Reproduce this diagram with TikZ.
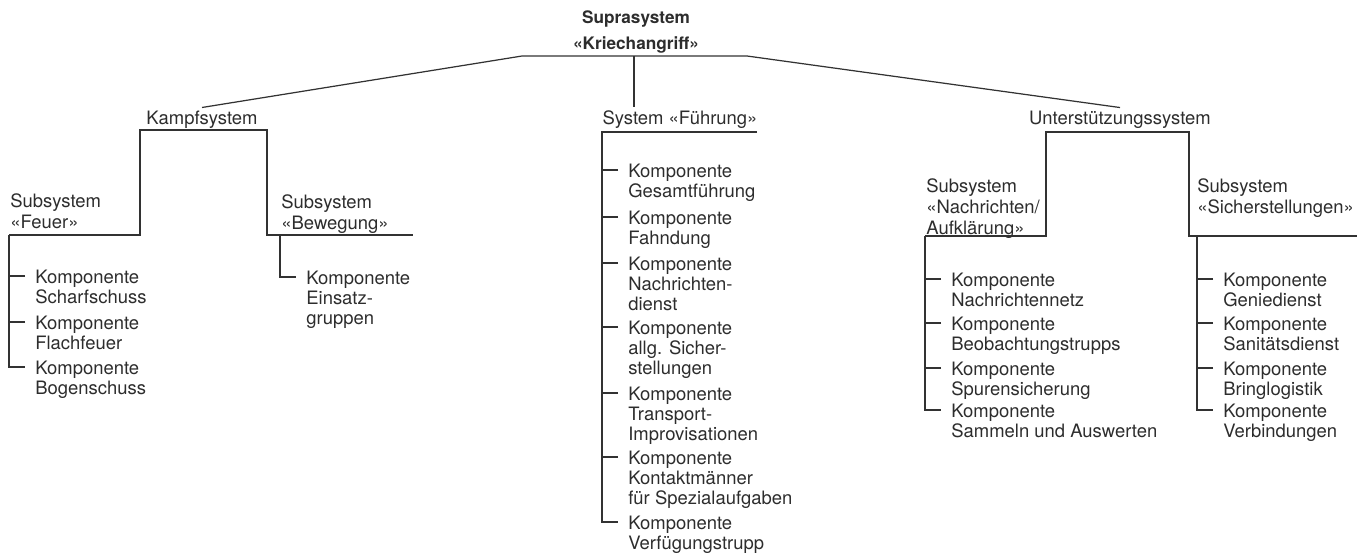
\documentclass[tikz,border=0pt]{standalone}
\usepackage{fontspec}
\setmainfont{TeX Gyre Heros}
\usetikzlibrary{
  positioning,
  calc
}
\definecolor{tintecol}{RGB}{45,45,45}
\definecolor{liniecol}{RGB}{50,50,50}
\tikzset{
  titel/.style={
    font=\fontsize{9.8}{14.8}\selectfont\bfseries,
    align=center,
    anchor=north,
    inner sep=1.5pt,
    text=tintecol
  },
  sysname/.style={
    font=\fontsize{10.5}{12}\selectfont,
    anchor=base,
    inner sep=1.8pt,
    text=tintecol
  },
  subsys/.style={
    font=\fontsize{10.5}{11.95}\selectfont,
    align=left,
    anchor=north west,
    inner sep=0pt,
    text=tintecol
  },
  komp/.style={
    font=\fontsize{10.5}{11.38}\selectfont,
    align=left,
    anchor=north west,
    inner sep=0pt,
    text=tintecol
  },
  linie/.style={
    line width=0.7pt,
    color=liniecol
  },
  zweig/.style={
    shift={(-10,6.6)}
  }
}

\begin{document}
\begin{tikzpicture}[x=0.02cm, y=-0.02cm]
  \useasboundingbox (0,0) rectangle (1366,555);

  % Suprasystem
  \node[titel] (supra) at (636,8) {Suprasystem\\«Kriechangriff»};
  \coordinate (supra-l) at (522,56);
  \coordinate (supra-m) at (634,56);
  \coordinate (supra-r) at (747,56);

  % Systems
  \node[sysname] (kampf) at (202,124.5) {Kampfsystem};
  \node[sysname] (fuehrung) at (680,124.5) {System «Führung»};
  \node[sysname] (unter) at (1120,124.5) {Unterstützungssystem};

  \coordinate (kampf-l) at (140,130);
  \coordinate (kampf-r) at (267,130);
  \coordinate (fue-a) at (602,132);
  \coordinate (fue-r) at (757,132);
  \coordinate (unter-l) at (1046,132);
  \coordinate (unter-r) at (1189,132);

  % Subsystems
  \node[subsys] (feuer) at (10,193.5) {Subsystem\\«Feuer»};
  \node[subsys] (beweg) at (281,194.5) {Subsystem\\«Bewegung»};
  \node[subsys] (nachr) at (926,178.5) {Subsystem\\«Nachrichten/\\Aufklärung»};
  \node[subsys] (sicher) at (1197,178.5) {Subsystem\\«Sicherstellungen»};

  \coordinate (feuer-a) at (9,235);
  \coordinate (beweg-a) at (280,235);
  \coordinate (beweg-e) at (413,235);
  \coordinate (nachr-a) at (925,236);
  \coordinate (sicher-a) at (1197,236);
  \coordinate (sicher-e) at (1357,236);

  % Components Feuer
  \node[komp] (f1) at (35,269.4) {Komponente\\Scharfschuss};
  \node[komp] (f2) at (35,315.4) {Komponente\\Flachfeuer};
  \node[komp] (f3) at (35,360.4) {Komponente\\Bogenschuss};

  % Components Bewegung
  \node[komp] (b1) at (306,270.4) {Komponente\\Einsatz-\\gruppen};

  % Components Fuehrung
  \node[komp] (g1) at (628,163.4) {Komponente\\Gesamtführung};
  \node[komp] (g2) at (628,210.4) {Komponente\\Fahndung};
  \node[komp] (g3) at (628,256.4) {Komponente\\Nachrichten-\\dienst};
  \node[komp] (g4) at (628,320.4) {Komponente\\allg. Sicher-\\stellungen};
  \node[komp] (g5) at (628,386.4) {Komponente\\Transport-\\Improvisationen};
  \node[komp] (g6) at (628,450.4) {Komponente\\Kontaktmänner\\für Spezialaufgaben};
  \node[komp] (g7) at (628,515.4) {Komponente\\Verfügungstrupp};

  % Components Nachrichten
  \node[komp] (n1) at (951,272.4) {Komponente\\Nachrichtennetz};
  \node[komp] (n2) at (951,316.4) {Komponente\\Beobachtungstrupps};
  \node[komp] (n3) at (951,361.4) {Komponente\\Spurensicherung};
  \node[komp] (n4) at (951,403.4) {Komponente\\Sammeln und Auswerten};

  % Components Sicherstellungen
  \node[komp] (s1) at (1223,272.4) {Komponente\\Geniedienst};
  \node[komp] (s2) at (1223,316.4) {Komponente\\Sanitätsdienst};
  \node[komp] (s3) at (1223,361.4) {Komponente\\Bringlogistik};
  \node[komp] (s4) at (1223,403.4) {Komponente\\Verbindungen};

  % Top connections
  \draw[linie] (kampf.north) -- (supra-l) -- (supra-r) -- (unter.north);
  \draw[linie] (supra-m) -- (supra-m |- fuehrung.north);

  % Kampfsystem
  \draw[linie] (feuer-a) -| (kampf-l) -- (kampf-r) |- (beweg-e);
  \draw[linie] (feuer-a) |- ([zweig]f3.north west);
  \draw[linie] ([zweig]f1.north west) -- ++(-16,0);
  \draw[linie] ([zweig]f2.north west) -- ++(-16,0);
  \draw[linie] (beweg-a) |- ([zweig]b1.north west);

  % System Fuehrung
  \draw[linie] (fue-r) -- (fue-a) |- ([zweig]g7.north west);
  \draw[linie] ([zweig]g1.north west) -- ++(-16,0);
  \draw[linie] ([zweig]g2.north west) -- ++(-16,0);
  \draw[linie] ([zweig]g3.north west) -- ++(-16,0);
  \draw[linie] ([zweig]g4.north west) -- ++(-16,0);
  \draw[linie] ([zweig]g5.north west) -- ++(-16,0);
  \draw[linie] ([zweig]g6.north west) -- ++(-16,0);

  % Unterstuetzungssystem
  \draw[linie] (nachr-a) -| (unter-l) -- (unter-r) |- (sicher-e);
  \draw[linie] (nachr-a) |- ([zweig]n4.north west);
  \draw[linie] ([zweig]n1.north west) -- ++(-16,0);
  \draw[linie] ([zweig]n2.north west) -- ++(-16,0);
  \draw[linie] ([zweig]n3.north west) -- ++(-16,0);
  \draw[linie] (sicher-a) |- ([zweig]s4.north west);
  \draw[linie] ([zweig]s1.north west) -- ++(-16,0);
  \draw[linie] ([zweig]s2.north west) -- ++(-16,0);
  \draw[linie] ([zweig]s3.north west) -- ++(-16,0);

\end{tikzpicture}
\end{document}
